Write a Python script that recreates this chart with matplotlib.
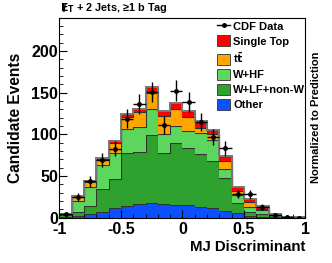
import numpy as np
import matplotlib.pyplot as plt
from matplotlib.patches import Patch
from matplotlib.lines import Line2D

plt.rcParams["font.family"] = ["Liberation Sans", "DejaVu Sans"]
plt.rcParams["font.weight"] = "bold"
plt.rcParams["mathtext.default"] = "bf"

# bin edges of the MJ discriminant (20 bins of width 0.1)
EDGES = np.linspace(-1.0, 1.0, 21)

# cumulative heights (bottom to top of stack)
other_top = [1, 2.5, 5, 7, 12, 14.5, 16, 18, 17, 15.5, 15, 13, 11.5, 8.5, 5.5, 2, 1, 0.5, 0.2, 0]
wlf_top = [3, 6.5, 14, 35, 46, 77.5, 79, 99, 77.5, 89.5, 84, 76, 68.5, 48, 17.5, 7, 4, 3.5, 1, 0.3]
whf_top = [4, 20, 37, 63, 78, 106, 109, 130, 100, 110.5, 104, 102, 93.5, 58.5, 27, 13, 9, 4, 1.2, 0.4]
ttbar_top = [4.5, 25, 43, 70, 90, 121, 127, 150, 121.5, 130.5, 121, 108, 100, 67.5, 32, 19, 11, 4.2, 1.3, 0.4]
stop_top = [5, 26.5, 44, 71.5, 92.5, 124.5, 131, 156.5, 127.5, 138, 127.5, 116, 105.5, 74.5, 37, 22.5, 14, 4.5, 1.5, 0.5]

data = [4, 25, 44, 69.5, 83, 119, 136.5, 151, 111.5, 152.5, 139, 115, 97, 83.5, 28.5, 28, 13, 3.5, 1, 0.3]

LAYERS = [
    ("Other", other_top, "#0a50ff"),
    ("W+LF+non-W", wlf_top, "#2ea12e"),
    ("W+HF", whf_top, "#5cd65c"),
    (r"t$\bar{\rm t}$", ttbar_top, "#ffa500"),
    ("Single Top", stop_top, "#ff0000"),
]


def main():
    fig = plt.figure(figsize=(3.32, 2.63), dpi=100)
    ax = fig.add_axes([0.179, 0.172, 0.741, 0.761])

    base = np.zeros(len(EDGES) - 1)
    for name, top, color in LAYERS:
        top = np.asarray(top, dtype=float)
        ax.stairs(top, EDGES, baseline=base, fill=True, color=color, lw=0)
        ax.stairs(top, EDGES, baseline=None, color="#333333", lw=0.8)
        base = top
    ax.stairs(base, EDGES, baseline=None, color="#777777", lw=1.4)

    centers = 0.5 * (EDGES[:-1] + EDGES[1:])
    y = np.asarray(data, dtype=float)
    ax.errorbar(centers, y, xerr=0.05, yerr=np.sqrt(y), fmt="o", ms=2.5,
                color="black", lw=1.0, capsize=0)

    ax.set_xlim(-1, 1)
    ax.set_ylim(0, 240)
    ax.set_xticks([-1, -0.5, 0, 0.5, 1])
    ax.set_xticklabels(["-1", "-0.5", "0", "0.5", "1"])
    ax.set_xticks(np.arange(-1, 1.01, 0.1), minor=True)
    ax.set_yticks([0, 50, 100, 150, 200])
    ax.set_yticks(np.arange(0, 241, 10), minor=True)
    ax.tick_params(which="both", direction="in", labelsize=11.5)
    ax.tick_params(axis="x", pad=3)
    ax.tick_params(axis="y", pad=1)
    ax.tick_params(which="major", length=6)
    ax.tick_params(which="minor", length=3)
    for lab in ax.get_xticklabels() + ax.get_yticklabels():
        lab.set_fontweight("bold")

    ax.set_ylabel("Candidate Events", fontsize=11.2, fontweight="bold", labelpad=6)
    ax.set_xlabel("MJ Discriminant", fontsize=10.8, fontweight="bold", loc="right", labelpad=2)

    # missing-ET title: draw E_T and put the slash over the E by hand
    fig.text(0.182, 0.943, r"$E_T$ + 2 Jets, ≥1 b Tag", fontsize=7.8,
             fontweight="bold", ha="left", va="bottom")
    fig.text(0.193, 0.943, "/", fontsize=8.5, fontweight="bold", ha="center", va="bottom")
    fig.text(0.952, 0.555, "Normalized to Prediction", rotation=90, fontsize=8,
             fontweight="bold", ha="center", va="center")

    handles = [Line2D([], [], color="black", marker="o", ms=2.5, lw=1.0)]
    labels = ["CDF Data"]
    for name, top, color in reversed(LAYERS):
        handles.append(Patch(facecolor=color, edgecolor="#333333", lw=0.6))
        labels.append(name)
    leg = ax.legend(handles, labels, loc="upper right", bbox_to_anchor=(1.03, 1.025),
                    frameon=False, fontsize=8, handlelength=1.1, handleheight=1.15,
                    handletextpad=0.3, labelspacing=0.33, borderaxespad=0.3)
    for t in leg.get_texts():
        t.set_fontweight("bold")

    fig.savefig("out.png", dpi=100)
    plt.close(fig)


if __name__ == "__main__":
    main()
